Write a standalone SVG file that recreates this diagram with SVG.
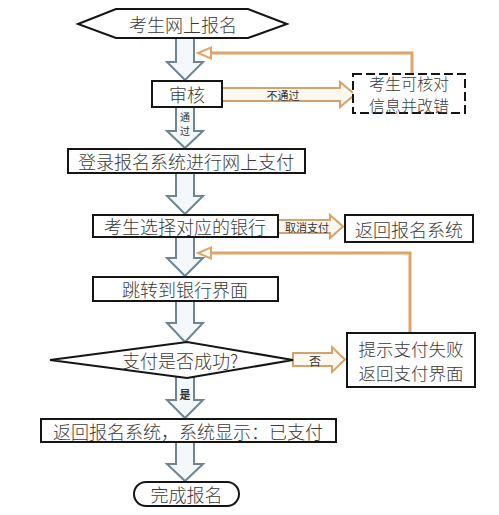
<svg xmlns="http://www.w3.org/2000/svg" width="499" height="515" viewBox="0 0 499 515">
<defs>
<style>
.box{fill:#fff;stroke:#151515;stroke-width:2}
.dash{fill:#fff;stroke:#151515;stroke-width:2;stroke-dasharray:9 4}
.t{font-family:"Noto Sans CJK SC","Noto Sans",sans-serif;font-size:18px;font-weight:300;fill:#3a3a3a;text-anchor:middle;dominant-baseline:central}
.s{font-family:"Noto Sans CJK SC","Noto Sans",sans-serif;font-size:11px;fill:#333;text-anchor:middle;dominant-baseline:central}
.va{fill:#f3f8fa;stroke:#6e8593;stroke-width:2;stroke-linejoin:miter}
.ha{fill:#fdf8ef;stroke:#d2a46c;stroke-width:2}
.fb{fill:none;stroke:#e0a468;stroke-width:3}
.fh{fill:#fff;stroke:#e0a468;stroke-width:2}
</style>
</defs>
<rect width="499" height="515" fill="#fff"/>
<g id="connectors">
<path class="va" d="M176,38 L194,38 L194,62 L203,62 L185,80 L167,62 L176,62 Z"/>
<path class="va" d="M176,107 L194,107 L194,131 L203,131 L185,148 L167,131 L176,131 Z"/>
<text class="s" x="185" y="116" style="font-size:10px">通</text>
<text class="s" x="185" y="130" style="font-size:10px">过</text>
<path class="va" d="M176,173 L194,173 L194,196 L203,196 L185,214 L167,196 L176,196 Z"/>
<path class="va" d="M176,237 L194,237 L194,258 L203,258 L185,276 L167,258 L176,258 Z"/>
<path class="va" d="M176,301 L194,301 L194,323 L203,323 L185,342 L167,323 L176,323 Z"/>
<path class="va" d="M176,374 L194,374 L194,400 L203,400 L185,418 L167,400 L176,400 Z"/>
<text class="s" x="185" y="394" font-weight="bold">是</text>
<path class="va" d="M176,442 L194,442 L194,464 L203,464 L185,481 L167,464 L176,464 Z"/>
<path class="ha" d="M222,88 L340,88 L340,82 L355,94.5 L340,107 L340,101 L222,101 Z"/>
<text class="s" x="283" y="95">不通过</text>
<path class="ha" d="M278,220 L330,220 L330,215 L343,226.5 L330,238 L330,233 L278,233 Z"/>
<text class="s" x="307" y="227">取消支付</text>
<path class="ha" d="M293,353 L332,353 L332,347 L345,359.5 L332,372 L332,366 L293,366 Z"/>
<text class="s" x="315" y="360" style="font-size:12px">否</text>
<polyline class="fb" points="412,74 412,53 210,53"/>
<path class="fh" d="M198,53 L211,47.5 L211,58.5 Z"/>
<polyline class="fb" points="410,333 410,253 210,253"/>
<path class="fh" d="M198,253 L211,247.5 L211,258.5 Z"/>
</g>
<g id="start">
<polygon class="box" points="78,24 116,9 248,9 287,24 248,38 116,38"/>
<text class="t" x="183" y="24">考生网上报名</text>
</g>
<g id="review">
<rect class="box" x="152" y="81" width="70" height="26"/>
<text class="t" x="187" y="94">审核</text>
</g>
<g id="fix">
<rect class="dash" x="353" y="74" width="112" height="39"/>
<text class="t" x="409" y="83" style="font-size:16px">考生可核对</text>
<text class="t" x="409" y="105" style="font-size:16px">信息并改错</text>
</g>
<g id="login">
<rect class="box" x="68" y="149" width="237" height="24"/>
<text class="t" x="186" y="161">登录报名系统进行网上支付</text>
</g>
<g id="bank">
<rect class="box" x="93" y="215" width="185" height="22"/>
<text class="t" x="185" y="226">考生选择对应的银行</text>
</g>
<g id="back">
<rect class="box" x="345" y="215" width="128" height="27"/>
<text class="t" x="409" y="228.5">返回报名系统</text>
</g>
<g id="jump">
<rect class="box" x="93" y="277" width="185" height="24"/>
<text class="t" x="185" y="289">跳转到银行界面</text>
</g>
<g id="decide">
<polygon class="box" points="50,360 187,342 293,360 187,378"/>
<text class="t" x="180" y="360">支付是否成功?</text>
</g>
<g id="fail">
<rect class="box" x="347" y="333" width="128" height="54"/>
<text class="t" x="411" y="348.5" style="font-size:17.5px">提示支付失败</text>
<text class="t" x="411" y="372" style="font-size:17.5px">返回支付界面</text>
</g>
<g id="paid">
<rect class="box" x="41" y="419" width="295" height="23"/>
<text class="t" x="188" y="430.5">返回报名系统，系统显示：已支付</text>
</g>
<g id="done">
<rect class="box" x="134" y="482" width="105" height="24" rx="12"/>
<text class="t" x="186.5" y="494">完成报名</text>
</g>
</svg>
